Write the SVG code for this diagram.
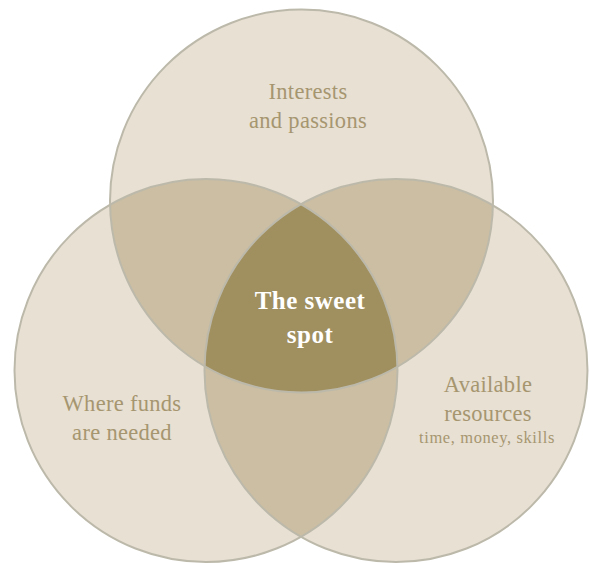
<svg xmlns="http://www.w3.org/2000/svg" width="590" height="563" viewBox="0 0 590 563">
<style>
.base{fill:#e8e0d3}
.pair{fill:#cbbea3}
.core{fill:#a08f5f}
.edge{fill:none;stroke:#bcb9aa;stroke-width:2}
.lbl{font-family:"Liberation Serif","Times New Roman",serif;fill:#a69670;text-anchor:middle;font-size:22.5px;letter-spacing:0.3px}
.small{font-size:16.5px;letter-spacing:0.6px}
.hot{font-family:"Liberation Serif","Times New Roman",serif;fill:#ffffff;text-anchor:middle;font-size:25px;font-weight:bold;letter-spacing:0.5px}
</style>
<defs>
<clipPath id="cT"><circle cx="301.5" cy="201" r="191.5"/></clipPath>
<clipPath id="cL"><circle cx="206" cy="370.5" r="191.5"/></clipPath>
<clipPath id="cR"><circle cx="396" cy="370.5" r="191.5"/></clipPath>
</defs>
<g id="fills">
<circle class="base" cx="301.5" cy="201" r="191.5"/>
<circle class="base" cx="206" cy="370.5" r="191.5"/>
<circle class="base" cx="396" cy="370.5" r="191.5"/>
<g clip-path="url(#cT)"><circle class="pair" cx="206" cy="370.5" r="191.5"/><circle class="pair" cx="396" cy="370.5" r="191.5"/></g>
<g clip-path="url(#cL)"><circle class="pair" cx="396" cy="370.5" r="191.5"/></g>
<g clip-path="url(#cT)"><g clip-path="url(#cL)"><circle class="core" cx="396" cy="370.5" r="191.5"/></g></g>
</g>
<g id="node-interests">
<circle class="edge" cx="301.5" cy="201" r="191.5"/>
<text class="lbl" x="308" y="99">Interests</text>
<text class="lbl" x="308" y="128">and passions</text>
</g>
<g id="node-funds">
<circle class="edge" cx="206" cy="370.5" r="191.5"/>
<text class="lbl" x="122" y="411">Where funds</text>
<text class="lbl" x="122" y="440">are needed</text>
</g>
<g id="node-resources">
<circle class="edge" cx="396" cy="370.5" r="191.5"/>
<text class="lbl" x="488" y="392">Available</text>
<text class="lbl" x="488" y="421">resources</text>
<text class="lbl small" x="487" y="443">time, money, skills</text>
</g>
<g id="node-sweetspot">
<text class="hot" x="310" y="309">The sweet</text>
<text class="hot" x="310" y="343">spot</text>
</g>
<g id="connectors"></g>
</svg>
